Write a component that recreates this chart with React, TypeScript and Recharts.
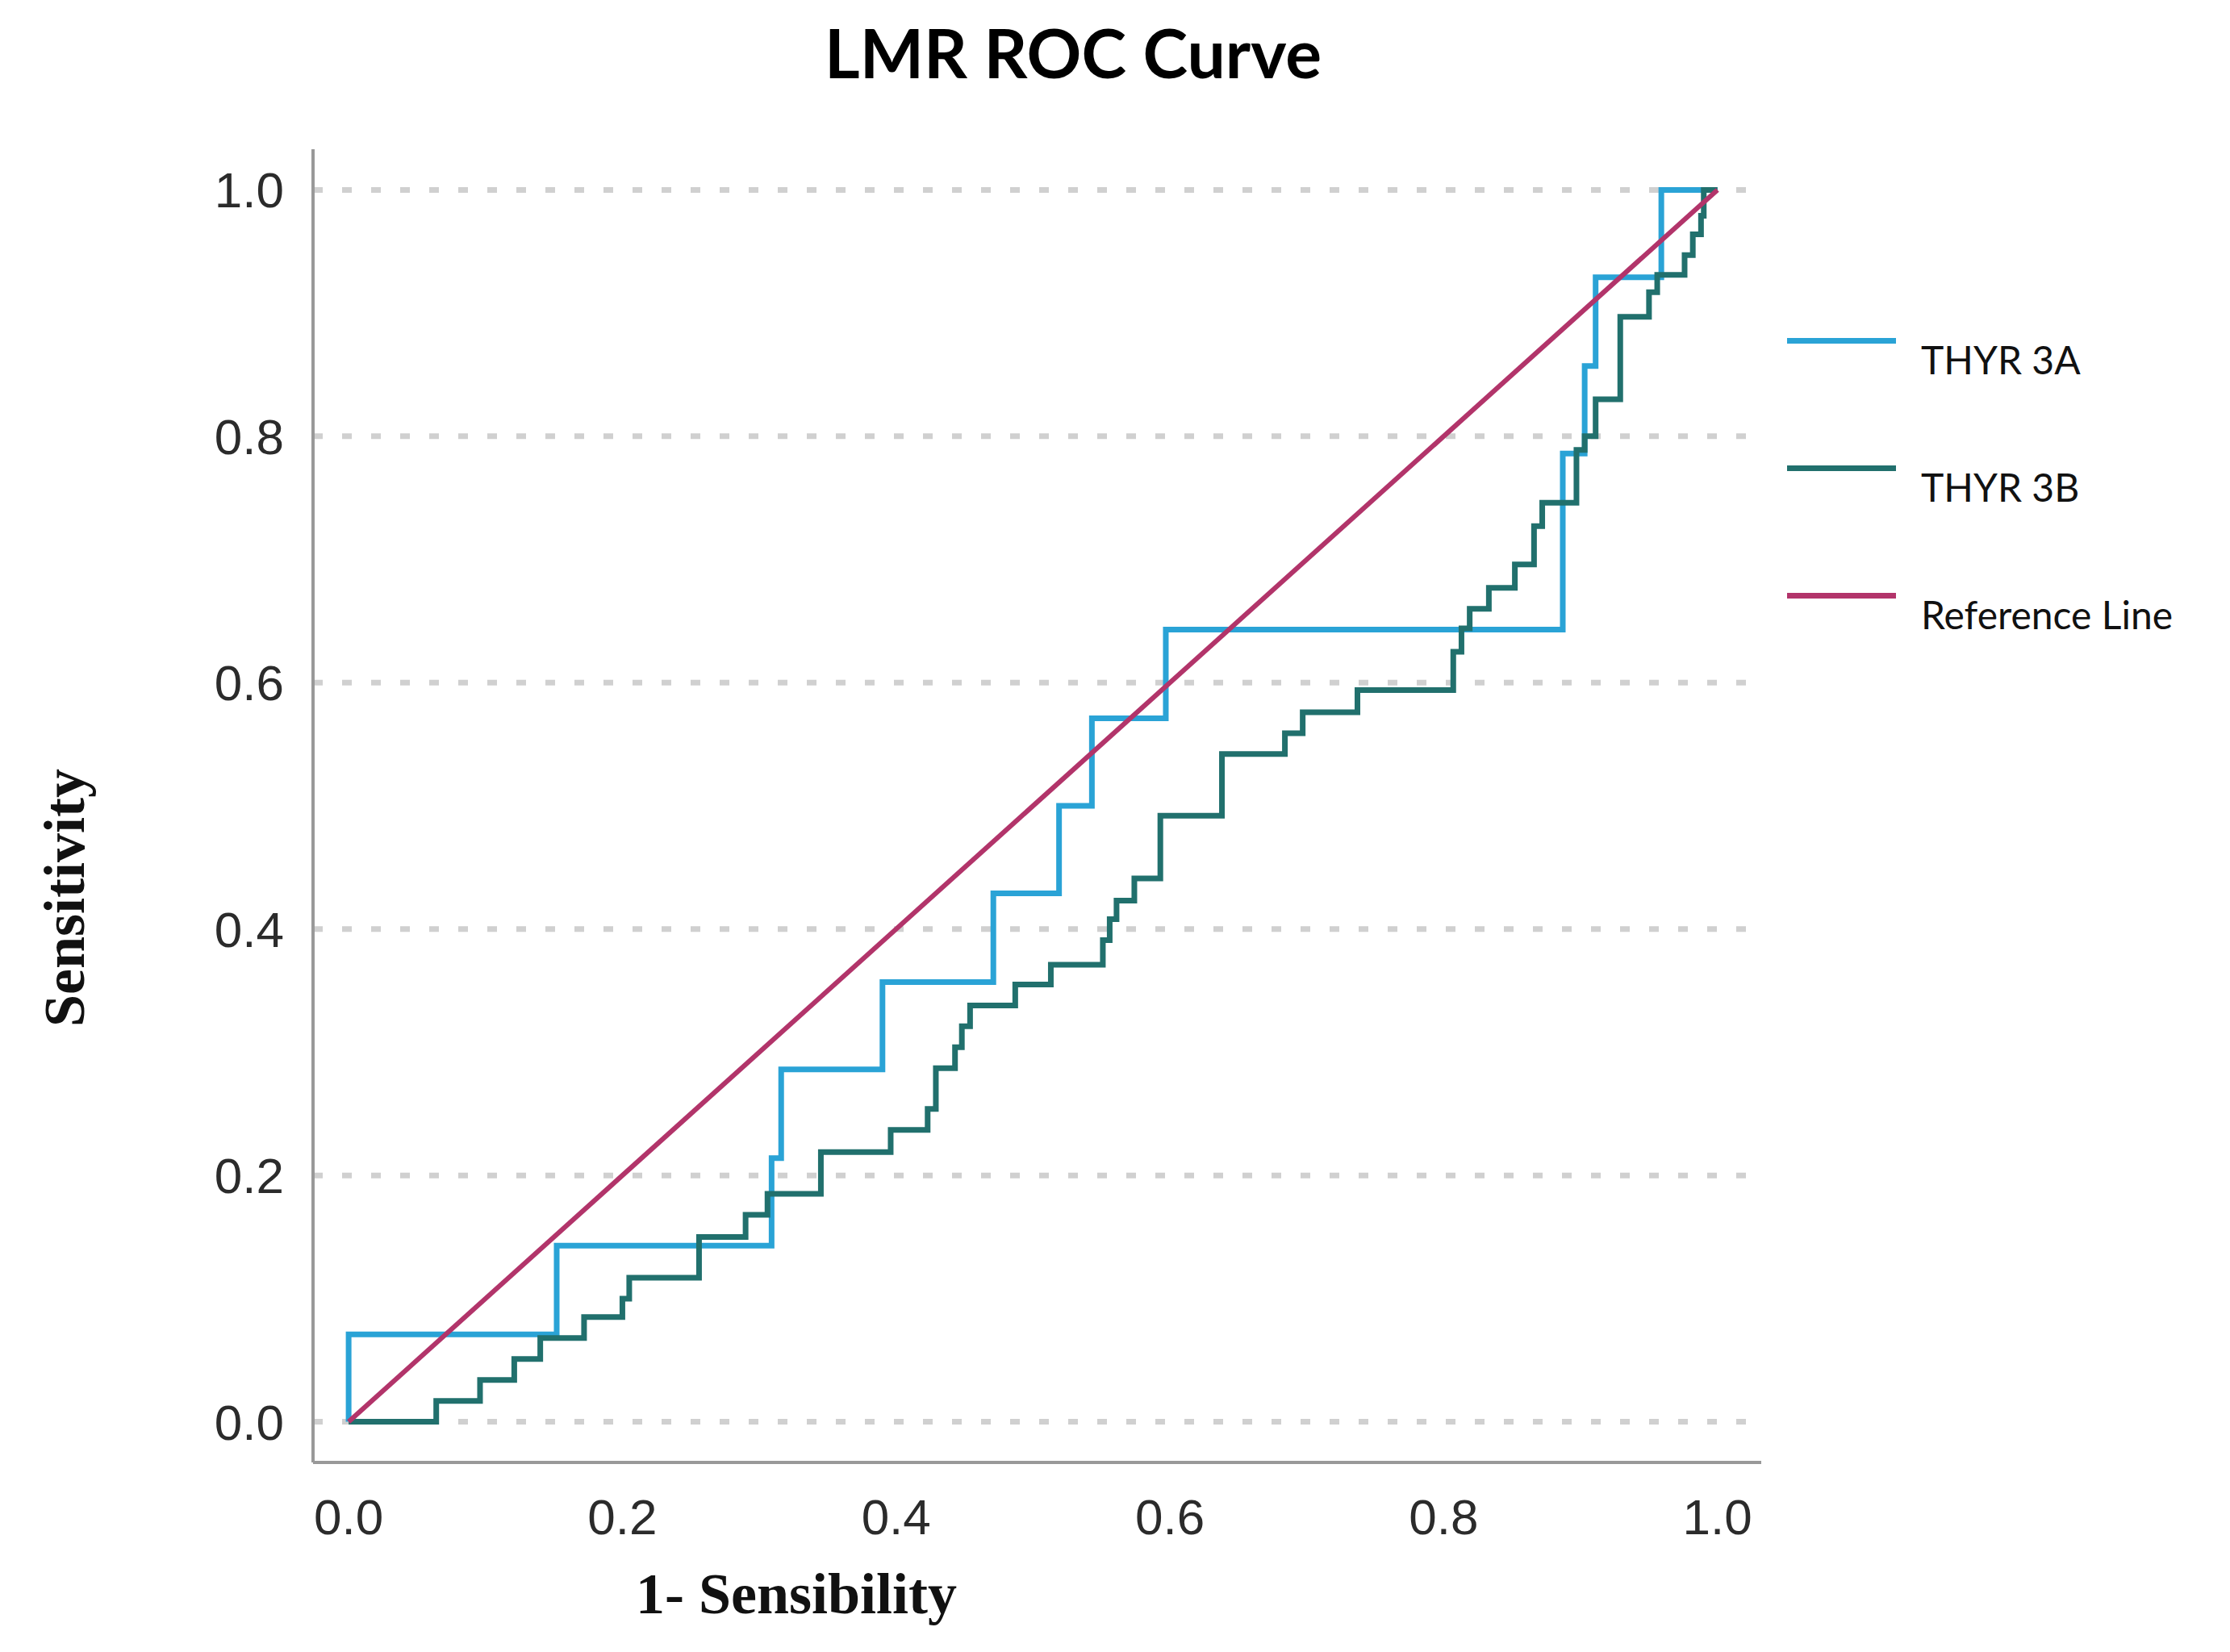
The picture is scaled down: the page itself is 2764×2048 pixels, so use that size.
import { LineChart, Line, XAxis, YAxis, CartesianGrid, Legend } from 'recharts';

// ROC corner points (1 - specificity, sensitivity)
const thyr3aFpr = [0, 0, 0.152, 0.309, 0.316, 0.390, 0.471, 0.519, 0.543, 0.597, 0.887, 0.903, 0.911, 0.959, 1];
const thyr3aTpr = [0, 0.071, 0.143, 0.214, 0.286, 0.357, 0.429, 0.5, 0.571, 0.643, 0.786, 0.857, 0.929, 1, 1];

const thyr3bFpr = [
  0, 0.064, 0.096, 0.121, 0.140, 0.172, 0.200, 0.205, 0.256, 0.290, 0.306, 0.345, 0.396, 0.423, 0.429,
  0.443, 0.448, 0.454, 0.487, 0.513, 0.551, 0.556, 0.561, 0.574, 0.593, 0.638, 0.684, 0.697, 0.737,
  0.807, 0.813, 0.819, 0.833, 0.852, 0.866, 0.872, 0.897, 0.903, 0.911, 0.929, 0.950, 0.956, 0.976,
  0.982, 0.988, 0.990, 1,
];
const thyr3bTpr = [
  0, 0.017, 0.034, 0.051, 0.068, 0.085, 0.100, 0.117, 0.150, 0.168, 0.185, 0.219, 0.237, 0.254, 0.287,
  0.304, 0.321, 0.338, 0.355, 0.371, 0.391, 0.408, 0.423, 0.441, 0.492, 0.542, 0.559, 0.576, 0.594,
  0.625, 0.644, 0.660, 0.677, 0.696, 0.727, 0.746, 0.789, 0.800, 0.830, 0.897, 0.917, 0.931, 0.947,
  0.964, 0.979, 1, 1,
];

const refFpr = [0, 1];
const refTpr = [0, 1];

const axisTicks = [0, 0.2, 0.4, 0.6, 0.8, 1];
const legendOrder = ['THYR 3A', 'THYR 3B', 'Reference Line'];

const toPoints = (fpr: number[], tpr: number[]) => fpr.map((x, i) => ({ fpr: x, tpr: tpr[i] }));

const thyr3a = toPoints(thyr3aFpr, thyr3aTpr);
const thyr3b = toPoints(thyr3bFpr, thyr3bTpr);
const reference = toPoints(refFpr, refTpr);

const renderLegend = (props: any) => {
  const items = [...(props.payload || [])].sort(
    (a: any, b: any) => legendOrder.indexOf(a.value) - legendOrder.indexOf(b.value)
  );
  return (
    <div style={{ position: 'relative', width: 560, height: 400 }}>
      {items.map((entry: any, i: number) => (
        <div key={entry.value} style={{ position: 'absolute', left: 0, top: i * 158 }}>
          <div style={{ position: 'absolute', left: 0, top: 0, width: 135, height: 7, background: entry.color }} />
          <span
            style={{
              position: 'absolute',
              left: 166,
              top: 3,
              fontFamily: 'Lato, sans-serif',
              fontSize: 48,
              lineHeight: '48px',
              color: '#111',
              whiteSpace: 'nowrap',
            }}
          >
            {entry.value}
          </span>
        </div>
      ))}
    </div>
  );
};

const xLabel = () => (
  <text x={987} y={2000} textAnchor="middle" fontFamily="'Liberation Serif', 'Times New Roman', serif" fontWeight="bold" fontSize={72} fill="#111">
    1- Sensibility
  </text>
);

const yLabel = () => (
  <text
    x={80}
    y={1113}
    transform="rotate(-90, 80, 1113)"
    textAnchor="middle"
    dominantBaseline="central"
    fontFamily="'Liberation Serif', 'Times New Roman', serif"
    fontWeight="bold"
    fontSize={72}
    fill="#111"
  >
    Sensitivity
  </text>
);

const tickStyle = { fontSize: 62, fill: '#2b2b2b', fontFamily: "'Liberation Sans', Arial, sans-serif" };

export default function App() {
  return (
    <div style={{ position: 'relative', width: 2764, height: 2048, background: '#fff' }}>
      <style>{'body{margin:0}'}</style>
      <div
        style={{
          position: 'absolute',
          left: 1330,
          top: 23,
          transform: 'translateX(-50%)',
          fontFamily: 'Lato, sans-serif',
          fontWeight: 700,
          fontSize: 84,
          lineHeight: 1,
          color: '#000',
          whiteSpace: 'nowrap',
        }}
      >
        LMR ROC Curve
      </div>
      <LineChart width={2764} height={2048} margin={{ top: 185, right: 581, bottom: 0, left: 0 }}>
        <CartesianGrid
          vertical={false}
          horizontalValues={axisTicks}
          stroke="#d0d0d0"
          strokeWidth={7}
          strokeDasharray="12 24"
        />
        <XAxis
          dataKey="fpr"
          type="number"
          domain={[-0.026, 1.032]}
          ticks={axisTicks}
          allowDataOverflow
          height={235}
          tickLine={false}
          tickSize={0}
          tickMargin={45}
          tick={tickStyle}
          tickFormatter={(v: number) => v.toFixed(1)}
          axisLine={{ stroke: '#999', strokeWidth: 4 }}
          label={xLabel}
        />
        <YAxis
          dataKey="tpr"
          type="number"
          domain={[-0.033, 1.033]}
          ticks={axisTicks}
          allowDataOverflow
          width={388}
          tickLine={false}
          tickSize={0}
          tickMargin={36}
          tick={tickStyle}
          tickFormatter={(v: number) => v.toFixed(1)}
          axisLine={{ stroke: '#999', strokeWidth: 4 }}
          label={yLabel}
        />
        <Legend
          layout="vertical"
          align="center"
          verticalAlign="middle"
          content={renderLegend}
          wrapperStyle={{ left: 2215, top: 419 }}
        />
        <Line
          data={thyr3a}
          dataKey="tpr"
          name="THYR 3A"
          type="stepAfter"
          stroke="#2aa3d6"
          strokeWidth={7}
          dot={false}
          activeDot={false}
          isAnimationActive={false}
        />
        <Line
          data={thyr3b}
          dataKey="tpr"
          name="THYR 3B"
          type="stepAfter"
          stroke="#21706d"
          strokeWidth={7}
          dot={false}
          activeDot={false}
          isAnimationActive={false}
        />
        <Line
          data={reference}
          dataKey="tpr"
          name="Reference Line"
          type="linear"
          stroke="#b2346a"
          strokeWidth={6}
          dot={false}
          activeDot={false}
          isAnimationActive={false}
        />
      </LineChart>
    </div>
  );
}
